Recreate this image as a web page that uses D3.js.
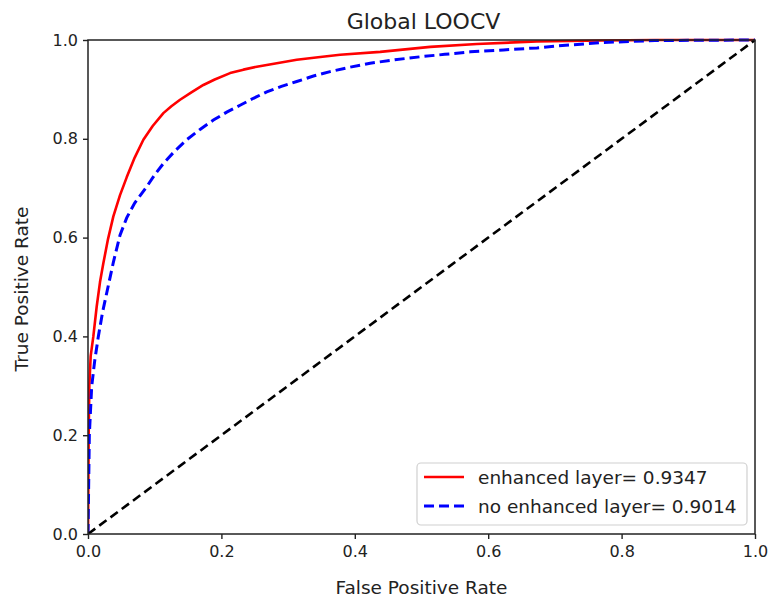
<!DOCTYPE html>
<html>
<head>
<meta charset="utf-8">
<script src="https://cdn.jsdelivr.net/npm/d3@7"></script>
<style>
  html, body { margin: 0; padding: 0; background: #fff; }
  svg { display: block; font-family: "DejaVu Sans", sans-serif; }
</style>
</head>
<body>
<svg id="chart" width="773" height="600"></svg>
<script>
// ROC curve points: [false positive rate, true positive rate]
const enhancedRoc = [
  [0, 0], [0.0005, 0.1], [0.001, 0.2], [0.002, 0.3], [0.004, 0.36], [0.008, 0.40],
  [0.013, 0.46], [0.018, 0.51], [0.023, 0.548], [0.030, 0.597], [0.038, 0.643],
  [0.048, 0.686], [0.058, 0.722], [0.070, 0.762], [0.083, 0.798], [0.097, 0.826],
  [0.113, 0.852], [0.125, 0.866], [0.138, 0.879], [0.155, 0.894], [0.173, 0.909],
  [0.19, 0.92], [0.213, 0.933], [0.233, 0.940], [0.253, 0.946], [0.283, 0.953],
  [0.313, 0.960], [0.345, 0.965], [0.378, 0.970], [0.438, 0.976], [0.513, 0.986],
  [0.583, 0.992], [0.673, 0.997], [0.77, 0.999], [0.85, 1.0], [1, 1]
];
const plainRoc = [
  [0, 0], [0.001, 0.1], [0.002, 0.2], [0.0055, 0.298], [0.010, 0.35], [0.0155, 0.40],
  [0.022, 0.45], [0.030, 0.50], [0.038, 0.55], [0.048, 0.605], [0.058, 0.640],
  [0.070, 0.670], [0.088, 0.703], [0.100, 0.727], [0.113, 0.75], [0.130, 0.775],
  [0.148, 0.798], [0.168, 0.819], [0.188, 0.838], [0.208, 0.854], [0.228, 0.868],
  [0.248, 0.882], [0.268, 0.895], [0.290, 0.906], [0.313, 0.916], [0.338, 0.927],
  [0.363, 0.936], [0.393, 0.945], [0.423, 0.953], [0.460, 0.960], [0.498, 0.966],
  [0.535, 0.971], [0.573, 0.976], [0.623, 0.980], [0.673, 0.984], [0.703, 0.988],
  [0.773, 0.995], [0.85, 0.999], [1, 1]
];
const chanceLine = [[0, 0], [1, 1]];

const seriesNames = ["enhanced layer= 0.9347", "no enhanced layer= 0.9014"];
const tickValues = [0, 0.2, 0.4, 0.6, 0.8, 1.0];
const titleText = "Global LOOCV";
const xLabel = "False Positive Rate";
const yLabel = "True Positive Rate";

const svg = d3.select("#chart");
const margin = { left: 88, right: 18, top: 40, bottom: 66 };
const W = 773, H = 600;
const x = d3.scaleLinear().domain([0, 1]).range([margin.left, W - margin.right]);
const y = d3.scaleLinear().domain([0, 1]).range([H - margin.bottom, margin.top]);

const line = d3.line().x(d => x(d[0])).y(d => y(d[1]));

// clip curves to the axes box
svg.append("clipPath").attr("id", "plotClip")
  .append("rect")
  .attr("x", x(0)).attr("y", y(1) - 2)
  .attr("width", x(1) - x(0) + 2).attr("height", y(0) - y(1) + 2);

const plot = svg.append("g").attr("clip-path", "url(#plotClip)");

plot.append("path").datum(enhancedRoc)
  .attr("d", line).attr("fill", "none")
  .attr("stroke", "#ff0000").attr("stroke-width", 2.6)
  .attr("stroke-linejoin", "round");

plot.append("path").datum(plainRoc)
  .attr("d", line).attr("fill", "none")
  .attr("stroke", "#0000ff").attr("stroke-width", 3)
  .attr("stroke-dasharray", "10,5");

plot.append("path").datum(chanceLine)
  .attr("d", line).attr("fill", "none")
  .attr("stroke", "#000").attr("stroke-width", 2.6)
  .attr("stroke-dasharray", "9,5");

// axes
const fmt = d3.format(".1f");
const xAxis = svg.append("g")
  .attr("transform", `translate(0,${y(0)})`)
  .call(d3.axisBottom(x).tickValues(tickValues).tickFormat(fmt).tickSize(5).tickSizeOuter(0));
const yAxis = svg.append("g")
  .attr("transform", `translate(${x(0)},0)`)
  .call(d3.axisLeft(y).tickValues(tickValues).tickFormat(fmt).tickSize(5).tickSizeOuter(0));

[xAxis, yAxis].forEach(a => {
  a.select(".domain").remove();
  a.selectAll(".tick line").attr("stroke", "#222").attr("stroke-width", 1.4);
  a.selectAll(".tick text")
    .attr("font-family", "DejaVu Sans, sans-serif")
    .attr("font-size", 16).attr("fill", "#222");
});
xAxis.selectAll(".tick text").attr("dy", "0.95em").attr("y", 8);
yAxis.selectAll(".tick text").attr("x", -10);

// axes frame
svg.append("rect")
  .attr("x", x(0)).attr("y", y(1))
  .attr("width", x(1) - x(0)).attr("height", y(0) - y(1))
  .attr("fill", "none").attr("stroke", "#222").attr("stroke-width", 1.5);

// title and axis labels
svg.append("text")
  .attr("x", (x(0) + x(1)) / 2 + 2).attr("y", 29)
  .attr("text-anchor", "middle").attr("font-size", 22).attr("fill", "#222")
  .text(titleText);

svg.append("text")
  .attr("x", (x(0) + x(1)) / 2).attr("y", 594)
  .attr("text-anchor", "middle").attr("font-size", 18.5).attr("fill", "#222")
  .text(xLabel);

svg.append("text")
  .attr("transform", `translate(28,${(y(0) + y(1)) / 2 + 2}) rotate(-90)`)
  .attr("text-anchor", "middle").attr("font-size", 18.5).attr("fill", "#222")
  .text(yLabel);

// legend
const legend = svg.append("g");
legend.append("rect")
  .attr("x", 417).attr("y", 463).attr("width", 330).attr("height", 62)
  .attr("rx", 4).attr("fill", "#fff").attr("fill-opacity", 0.85)
  .attr("stroke", "#d0d0d0").attr("stroke-width", 1.2);

const legendItems = [
  { name: seriesNames[0], color: "#ff0000", dash: null, width: 2.6, yPos: 477 },
  { name: seriesNames[1], color: "#0000ff", dash: "10,5", width: 3, yPos: 506 }
];
legendItems.forEach(item => {
  legend.append("line")
    .attr("x1", 424).attr("x2", 464).attr("y1", item.yPos).attr("y2", item.yPos)
    .attr("stroke", item.color).attr("stroke-width", item.width)
    .attr("stroke-dasharray", item.dash);
  legend.append("text")
    .attr("x", 478).attr("y", item.yPos).attr("dy", "0.36em")
    .attr("font-size", 18.5).attr("fill", "#222")
    .text(item.name);
});
</script>
</body>
</html>
